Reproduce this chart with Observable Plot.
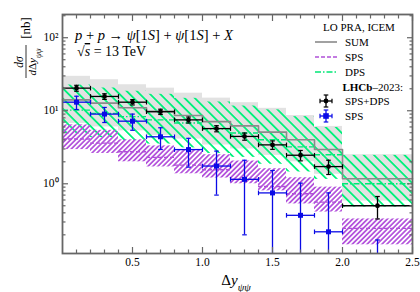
<!DOCTYPE html>
<html><head><meta charset="utf-8">
<script src="https://cdn.jsdelivr.net/npm/d3@7"></script>
<script src="https://cdn.jsdelivr.net/npm/@observablehq/plot@0.6"></script>
<style>body{margin:0;background:#fff;}</style>
</head><body><div id="chart"></div>
<script>
// ---------- data ----------
const binEdges   = [0, 0.2, 0.4, 0.6, 0.8, 1.0, 1.2, 1.4, 1.6, 1.8, 2.0, 2.5];
const binCenters = [0.1, 0.3, 0.5, 0.7, 0.9, 1.1, 1.3, 1.5, 1.7, 1.9, 2.25];

const sumCentral = [14.1, 12.7, 11.0, 9.8, 8.6, 7.1, 6.2, 5.1, 4.0, 2.95, 1.17];
const sumUpper   = [29.6, 26.6, 22.7, 20.4, 17.4, 14.9, 12.9, 10.8, 8.6, 6.1, 2.5];
const sumLower   = [6.7, 6.0, 5.3, 4.6, 4.1, 3.4, 3.0, 2.45, 2.0, 1.35, 0.58];

const dpsCentral = [10.2, 9.2, 8.3, 7.5, 6.8, 5.6, 4.95, 4.0, 3.2, 2.5, 1.0];
const dpsUpper   = [22.5, 20.5, 18.5, 16.8, 14.8, 13.2, 11.6, 10.3, 8.3, 5.9, 2.45];
const dpsLower   = [4.8, 4.3, 3.9, 3.5, 3.1, 2.6, 2.3, 1.85, 1.45, 1.15, 0.48];

const spsCentral = [4.1, 3.6, 2.75, 2.3, 1.8, 1.56, 1.15, 0.92, 0.73, 0.56, 0.245];
const spsUpper   = [6.4, 5.4, 4.0, 3.3, 2.9, 2.5, 2.05, 1.61, 1.21, 0.9, 0.33];
const spsLower   = [2.94, 2.6, 2.0, 1.7, 1.37, 1.2, 1.0, 0.8, 0.53, 0.41, 0.146];

const lhcbTotal    = [20.4, 15.7, 13.1, 9.7, 7.5, 5.7, 4.45, 3.41, 2.46, 1.72, 0.5];
const lhcbTotalErr = [1.9, 1.4, 1.1, 0.8, 0.7, 0.55, 0.5, 0.45, 0.4, 0.38, 0.17];
const lhcbSps      = [13.1, 9.0, 7.2, 4.4, 2.94, 1.75, 1.15, 0.75, 0.37, 0.22, 0.05];
const lhcbSpsErr   = [2.7, 2.1, 1.8, 1.45, 1.25, 1.05, 0.95, 0.77, 0.65, 0.53, 0.12];

const yMajorTicks = [1, 10, 100];
const yMajorLabels = ["10⁰", "10¹", "10²"];
const yMinorTicks = [0.2,0.3,0.4,0.5,0.6,0.7,0.8,0.9, 2,3,4,5,6,7,8,9, 20,30,40,50,60,70,80,90, 200];
const xMajorTicks = [0.5, 1.0, 1.5, 2.0, 2.5];
const xMinorTicks = [0.1,0.2,0.3,0.4,0.6,0.7,0.8,0.9,1.1,1.2,1.3,1.4,1.6,1.7,1.8,1.9,2.1,2.2,2.3,2.4];

// ---------- styles ----------
const C = {
  band: "#e2e2e2", sum: "#8a8a8a", sps: "#b050d8", spsHatch: "#b455dc",
  dps: "#00e676", dpsHatch: "#00f27c", total: "#000000", spsData: "#0a0ae6", axis: "#666666"
};
const FONT = "Liberation Serif";

// ---------- tables ----------
const bins = binCenters.map((c, i) => ({
  x1: binEdges[i], x2: binEdges[i + 1], c,
  sum: sumCentral[i], sumHi: sumUpper[i], sumLo: sumLower[i],
  dps: dpsCentral[i], dpsHi: dpsUpper[i], dpsLo: dpsLower[i],
  sps: spsCentral[i], spsHi: spsUpper[i], spsLo: spsLower[i]
}));
const stepPts = binEdges.map((e, i) => ({x: e, y: sumCentral[Math.min(i, sumCentral.length - 1)]}));
const mkPts = (vals, errs) => binCenters.map((c, i) => ({
  x: c, x1: binEdges[i], x2: binEdges[i + 1], y: vals[i],
  hi: vals[i] + errs[i], lo: Math.max(vals[i] - errs[i], 1e-3)
}));
const totalPts = mkPts(lhcbTotal, lhcbTotalErr);
const spsPts = mkPts(lhcbSps, lhcbSpsErr);

const hcap = {draw(ctx, size) { const r = Math.sqrt(size / Math.PI); ctx.moveTo(-r, 0); ctx.lineTo(r, 0); }};
const vcap = {draw(ctx, size) { const r = Math.sqrt(size / Math.PI); ctx.moveTo(0, -r); ctx.lineTo(0, r); }};

function dataMarks(pts, color, symbol, r) {
  return [
    Plot.ruleX(pts, {x: "x", y1: "lo", y2: "hi", stroke: color, strokeWidth: 1.3, clip: true}),
    Plot.ruleY(pts, {x1: "x1", x2: "x2", y: "y", stroke: color, strokeWidth: 1.3, clip: true}),
    Plot.dot(pts, {x: "x", y: "hi", symbol: hcap, r: 2.3, stroke: color, strokeWidth: 1.2, clip: true}),
    Plot.dot(pts, {x: "x", y: "lo", symbol: hcap, r: 2.3, stroke: color, strokeWidth: 1.2, clip: true}),
    Plot.dot(pts, {x: "x1", y: "y", symbol: vcap, r: 2.3, stroke: color, strokeWidth: 1.2, clip: true}),
    Plot.dot(pts, {x: "x2", y: "y", symbol: vcap, r: 2.3, stroke: color, strokeWidth: 1.2, clip: true}),
    Plot.dot(pts, {x: "x", y: "y", symbol, r, fill: color, stroke: "none", clip: true})
  ];
}

const axisCommon = {stroke: C.axis, fill: "black", strokeWidth: 1.2, label: null};

const plot = Plot.plot({
  width: 420, height: 292,
  marginLeft: 62, marginRight: 8, marginTop: 14, marginBottom: 39,
  style: {fontFamily: FONT, fontSize: "11.5px", background: "white", color: "black"},
  x: {domain: [0, 2.5]},
  y: {type: "log", domain: [0.111, 208]},
  marks: [
    Plot.rect(bins, {x1: "x1", x2: "x2", y1: "sumLo", y2: "sumHi", fill: C.band}),
    Plot.rect(bins, {x1: "x1", x2: "x2", y1: "dpsLo", y2: "dpsHi", fill: "url(#hatchDPS)"}),
    Plot.rect(bins, {x1: "x1", x2: "x2", y1: "spsLo", y2: "spsHi", fill: "url(#hatchSPS)"}),
    Plot.line(stepPts, {x: "x", y: "y", curve: "step-after", stroke: C.sum, strokeWidth: 1.6}),
    Plot.ruleY(bins, {x1: "x1", x2: "x2", y: "dps", stroke: C.dps, strokeWidth: 1.4, strokeDasharray: "6,2,1.5,2"}),
    Plot.ruleY(bins, {x1: "x1", x2: "x2", y: "sps", stroke: C.sps, strokeWidth: 1.4, strokeDasharray: "4,2"}),
    ...dataMarks(totalPts, C.total, "circle", 2.4),
    ...dataMarks(spsPts, C.spsData, "square", 2.8),
    Plot.axisY({...axisCommon, anchor: "left", ticks: yMajorTicks, tickSize: -6, tickPadding: 10,
      tickFormat: d => yMajorLabels[yMajorTicks.indexOf(d)]}),
    Plot.axisY({...axisCommon, anchor: "left", ticks: yMinorTicks, tickSize: -3.5, tickFormat: () => ""}),
    Plot.axisY({...axisCommon, anchor: "right", ticks: yMajorTicks, tickSize: -6, tickFormat: () => ""}),
    Plot.axisY({...axisCommon, anchor: "right", ticks: yMinorTicks, tickSize: -3.5, tickFormat: () => ""}),
    Plot.axisX({...axisCommon, anchor: "bottom", ticks: xMajorTicks, tickSize: -6, tickPadding: 10,
      tickFormat: d3.format(".1f")}),
    Plot.axisX({...axisCommon, anchor: "bottom", ticks: xMinorTicks, tickSize: -3.5, tickFormat: () => ""}),
    Plot.axisX({...axisCommon, anchor: "top", ticks: xMajorTicks, tickSize: -6, tickFormat: () => ""}),
    Plot.axisX({...axisCommon, anchor: "top", ticks: xMinorTicks, tickSize: -3.5, tickFormat: () => ""}),
    Plot.frame({stroke: C.axis, strokeWidth: 1.8})
  ]
});

// ---------- decorations (patterns, labels, legend) ----------
const NS = "http://www.w3.org/2000/svg";
function el(tag, attrs = {}, parent) {
  const e = document.createElementNS(NS, tag);
  for (const k in attrs) e.setAttribute(k, attrs[k]);
  if (parent) parent.appendChild(e);
  return e;
}
function txt(parent, attrs, parts) {
  const t = el("text", {"font-family": FONT, "text-anchor": "start", fill: "black", ...attrs}, parent);
  for (const p of parts) {
    if (typeof p === "string") t.appendChild(document.createTextNode(p));
    else { const s = el("tspan", p.a || {}, t); s.textContent = p.t; }
  }
  return t;
}
const it = t => ({t, a: {"font-style": "italic"}});
const sub = t => ({t, a: {"font-size": "0.7em", "baseline-shift": "sub", "font-style": "italic"}});

const svg = plot;
const defs = el("defs");
svg.insertBefore(defs, svg.firstChild);
function hatch(id, color, spacing, width, angle) {
  const p = el("pattern", {id, patternUnits: "userSpaceOnUse", width: spacing, height: spacing,
    patternTransform: `rotate(${angle})`}, defs);
  el("rect", {x: (spacing - width) / 2, y: 0, width, height: spacing, fill: color, "shape-rendering": "crispEdges"}, p);
}
hatch("hatchDPS", C.dpsHatch, 7.2, 2.2, -45);
hatch("hatchSPS", C.spsHatch, 3.5, 1.6, 45);

const g = el("g", {"text-anchor": "start"}, svg);
// reaction annotation
txt(g, {x: 75, y: 40, "font-size": 14.5},
  [it("p"), " + ", it("p"), " → ", it("ψ"), "[1", it("S"), "] + ", it("ψ"), "[1", it("S"), "] + ", it("X")]);
txt(g, {x: 77, y: 56, "font-size": 14},
  ["√", {t: "s", a: {"font-style": "italic", "text-decoration": "overline"}}, " = 13 TeV"]);

// y label (rotated fraction)
const yl = el("g", {transform: "translate(26,62) rotate(-90)"}, g);
txt(yl, {x: 0, y: -3, "font-size": 11.5, "text-anchor": "middle"}, [it("d"), it("σ")]);
el("line", {x1: -16, x2: 17, y1: 0, y2: 0, stroke: "black", "stroke-width": 0.8}, yl);
txt(yl, {x: 0, y: 10, "font-size": 11, "text-anchor": "middle"}, [it("d"), "Δ", it("y"), sub("ψψ")]);
txt(yl, {x: 34, y: 4, "font-size": 13, "text-anchor": "middle"}, ["[nb]"]);

// x label
txt(g, {x: 236, y: 285, "font-size": 15, "text-anchor": "middle"}, ["Δ", it("y"), sub("ψψ")]);

// legend
const lg = el("g", {"font-size": 11}, g);
txt(lg, {x: 359, y: 31, "text-anchor": "middle"}, ["LO PRA, ICEM"]);
const legLines = [
  {y: 42, label: "SUM", stroke: C.sum, dash: null, w: 1.6},
  {y: 57, label: "SPS", stroke: C.sps, dash: "4,2", w: 1.4},
  {y: 72, label: "DPS", stroke: C.dps, dash: "6,2,1.5,2", w: 1.4}
];
for (const L of legLines) {
  const a = {x1: 315, x2: 337, y1: L.y, y2: L.y, stroke: L.stroke, "stroke-width": L.w};
  if (L.dash) a["stroke-dasharray"] = L.dash;
  el("line", a, lg);
  txt(lg, {x: 345, y: L.y + 4}, [L.label]);
}
txt(lg, {x: 403, y: 91, "text-anchor": "end"}, [{t: "LHCb", a: {"font-weight": "bold"}}, "–2023:"]);
function legMarker(cx, cy, color, square) {
  el("line", {x1: cx - 6, x2: cx + 6, y1: cy, y2: cy, stroke: color, "stroke-width": 1.3}, lg);
  el("line", {x1: cx, x2: cx, y1: cy - 6, y2: cy + 6, stroke: color, "stroke-width": 1.3}, lg);
  el("line", {x1: cx - 2.3, x2: cx + 2.3, y1: cy - 6, y2: cy - 6, stroke: color, "stroke-width": 1.2}, lg);
  el("line", {x1: cx - 2.3, x2: cx + 2.3, y1: cy + 6, y2: cy + 6, stroke: color, "stroke-width": 1.2}, lg);
  el("line", {x1: cx - 6, x2: cx - 6, y1: cy - 2.3, y2: cy + 2.3, stroke: color, "stroke-width": 1.2}, lg);
  el("line", {x1: cx + 6, x2: cx + 6, y1: cy - 2.3, y2: cy + 2.3, stroke: color, "stroke-width": 1.2}, lg);
  if (square) el("rect", {x: cx - 2.8, y: cy - 2.8, width: 5.6, height: 5.6, fill: color}, lg);
  else el("circle", {cx, cy, r: 2.4, fill: color}, lg);
}
legMarker(326, 101, C.total, false);
txt(lg, {x: 345, y: 105}, ["SPS+DPS"]);
legMarker(326, 116, C.spsData, true);
txt(lg, {x: 345, y: 120}, ["SPS"]);

document.getElementById("chart").appendChild(plot);
</script>
</body></html>
